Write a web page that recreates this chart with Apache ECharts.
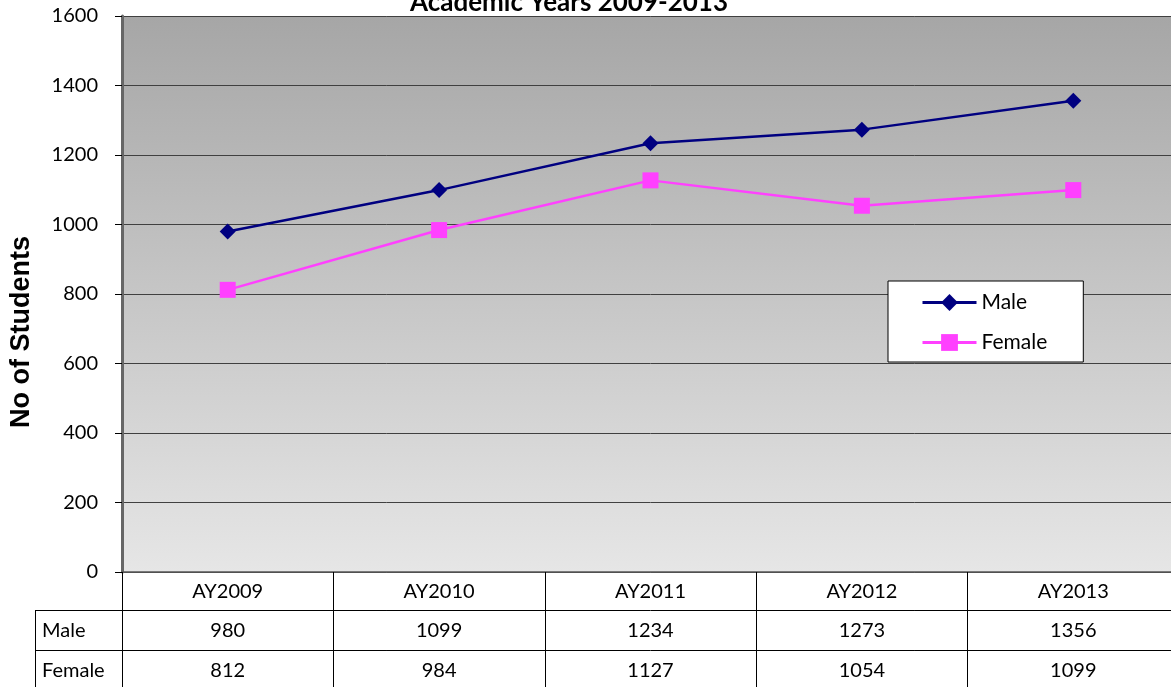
<!DOCTYPE html>
<html><head><meta charset="utf-8">
<script src="https://cdn.jsdelivr.net/npm/echarts@6/dist/echarts.min.js"></script>
<style>html,body{margin:0;padding:0;background:#fff;overflow:hidden;width:1171px;height:687px}#c{width:1179px;height:687px}</style>
</head><body><div id="c"></div>
<script>
const categories = ['AY2009','AY2010','AY2011','AY2012','AY2013'];
const maleValues = [980, 1099, 1234, 1273, 1356];
const femaleValues = [812, 984, 1127, 1054, 1099];
const yTicks = {min: 0, max: 1600, interval: 200};
const titleText = 'Academic Years 2009-2013';
const yTitle = 'No of Students';

const chart = echarts.init(document.getElementById('c'));
const FONT = 'Lato';
const catAxisBase = {
  type: 'category', gridIndex: 0, position: 'bottom', data: categories,
  boundaryGap: true,
  axisLine: {show: true, lineStyle: {color: '#000', width: 1}},
  axisTick: {show: true, inside: false, alignWithLabel: false, lineStyle: {color: '#000', width: 1}},
  splitLine: {show: false}
};
chart.setOption({
  animation: false,
  backgroundColor: '#fff',
  grid: {left: 122, right: 0, top: 16, height: 556, show: true, borderWidth: 0,
    backgroundColor: new echarts.graphic.LinearGradient(0, 0, 0, 1, [
      {offset: 0, color: '#a6a6a6'}, {offset: 1, color: '#e6e6e6'}])},
  legend: {
    left: 888, top: 281, orient: 'vertical',
    padding: [11, 36, 9, 33], itemGap: 19, itemWidth: 54, itemHeight: 21,
    backgroundColor: '#fff', borderColor: '#000', borderWidth: 1,
    textStyle: {fontFamily: FONT, fontSize: 21, color: '#000'},
    lineStyle: {width: 3},
    data: ['Male', 'Female']
  },
  xAxis: [
    Object.assign({}, catAxisBase, {
      offset: 0,
      axisLine: {show: true, lineStyle: {color: '#555', width: 1.5}},
      axisTick: {show: true, length: 38, lineStyle: {color: '#000', width: 1}},
      axisLabel: {fontFamily: FONT, fontSize: 20, color: '#000', margin: 10, lineHeight: 20}
    }),
    Object.assign({}, catAxisBase, {
      offset: 38,
      axisTick: {show: true, length: 40, lineStyle: {color: '#000', width: 1}},
      axisLabel: {fontFamily: FONT, fontSize: 20, color: '#000', margin: 11, lineHeight: 20,
        formatter: (v, i) => String(maleValues[i])}
    }),
    Object.assign({}, catAxisBase, {
      offset: 78,
      axisTick: {show: true, length: 40, lineStyle: {color: '#000', width: 1}},
      axisLabel: {fontFamily: FONT, fontSize: 20, color: '#000', margin: 11, lineHeight: 20,
        formatter: (v, i) => String(femaleValues[i])}
    })
  ],
  yAxis: {
    type: 'value', min: yTicks.min, max: yTicks.max, interval: yTicks.interval,
    axisLine: {show: true, lineStyle: {color: '#666', width: 3}},
    axisTick: {show: true, length: 7, lineStyle: {color: '#000', width: 1}},
    axisLabel: {fontFamily: FONT, fontSize: 20, color: '#000', margin: 24,
      formatter: v => String(v)},
    splitLine: {show: true, lineStyle: {color: '#404040', width: 1}}
  },
  series: [
    {name: 'Male', type: 'line', xAxisIndex: 0, data: maleValues,
      symbol: 'diamond', symbolSize: 16, color: '#000080',
      lineStyle: {color: '#000080', width: 2.5}, itemStyle: {color: '#000080'}},
    {name: 'Female', type: 'line', xAxisIndex: 0, data: femaleValues,
      symbol: 'rect', symbolSize: 16, color: '#ff40ff',
      lineStyle: {color: '#ff40ff', width: 2.5}, itemStyle: {color: '#ff40ff'}}
  ],
  graphic: [
    {type: 'text', x: 569, y: -10, style: {text: titleText, fontFamily: FONT, align: 'center',
      fontWeight: 'bold', fontSize: 26, fill: '#000'}, z: 100},
    {type: 'text', x: 22, y: 332, rotation: Math.PI / 2, style: {text: yTitle,
      fontFamily: 'Liberation Sans', fontWeight: 'bold', fontSize: 27, fill: '#000',
      align: 'center', verticalAlign: 'middle'}},
    {type: 'line', shape: {x1: 35, y1: 610.5, x2: 122, y2: 610.5}, style: {stroke: '#000', lineWidth: 1}},
    {type: 'line', shape: {x1: 35, y1: 650.5, x2: 122, y2: 650.5}, style: {stroke: '#000', lineWidth: 1}},
    {type: 'line', shape: {x1: 35.5, y1: 610, x2: 35.5, y2: 687}, style: {stroke: '#000', lineWidth: 1}},
    {type: 'text', left: 42, top: 621, style: {text: 'Male', fontFamily: FONT, fontSize: 20, fill: '#000'}},
    {type: 'text', left: 42, top: 661, style: {text: 'Female', fontFamily: FONT, fontSize: 20, fill: '#000'}}
  ]
});
</script></body></html>
